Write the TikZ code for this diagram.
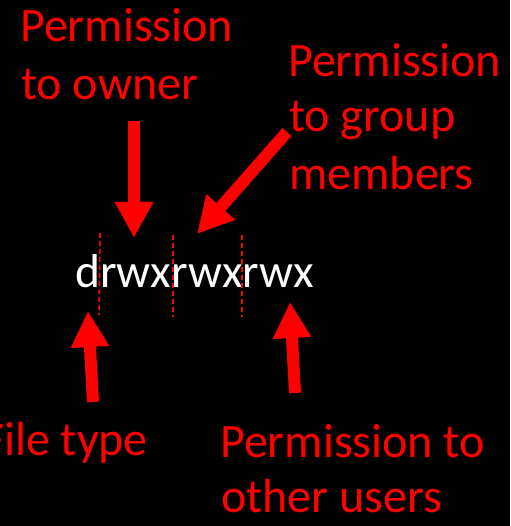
\documentclass[tikz,border=0pt]{standalone}
\usepackage{fontspec}
\setmainfont{Carlito}
\usetikzlibrary{arrows.meta}
\definecolor{lbl}{RGB}{255,0,0}
\tikzset{
  lab/.style={text=lbl, anchor=base west, inner sep=0pt, font=\fontsize{48}{58}\selectfont},
  perm/.style={text=white, anchor=base west, inner sep=0pt, font=\fontsize{47.5}{56}\selectfont},
  bigarrow/.style={draw=lbl, line width=12pt, -{Triangle[length=36pt,width=36pt]}},
  sep/.style={draw=lbl, line width=1.6pt, dash pattern=on 5pt off 3pt}
}
\begin{document}
\begin{tikzpicture}[x=1pt,y=-1pt]
\fill[black] (0,0) rectangle (510,526);
\useasboundingbox (0,0) rectangle (510,526);
% labels
\node[lab] (own1) at (20,42) {Permission};
\node[lab] (own2) at (21,100) {to owner};
\node[lab] (grp1) at (288,77) {Permission};
\node[lab] (grp2) at (289,132) {to group};
\node[lab] (grp3) at (289,190) {members};
\node[lab] (ft) at (-18,455) {File type};
\node[lab] (oth1) at (220,457) {Permission to};
\node[lab] (oth2) at (221,512) {other users};
\node[perm] (bits) at (75,287) {drwxrwxrwx};
% separators
\coordinate (s1a) at (100,233); \coordinate (s1b) at (99,315);
\coordinate (s2a) at (173,235); \coordinate (s2b) at (173,317);
\coordinate (s3a) at (242,235); \coordinate (s3b) at (242,317);
\path[sep] (s1a) -- (s1b);
\path[sep] (s2a) -- (s2b);
\path[sep] (s3a) -- (s3b);
% arrows
\coordinate (a1s) at (134,121); \coordinate (a1e) at (134,238);
\coordinate (a2s) at (287,132); \coordinate (a2e) at (197,234);
\coordinate (a3s) at (93,402); \coordinate (a3e) at (88,311);
\coordinate (a4s) at (295,393); \coordinate (a4e) at (290,302);
\path[bigarrow] (a1s) -- (a1e);
\path[bigarrow] (a2s) -- (a2e);
\path[bigarrow] (a3s) -- (a3e);
\path[bigarrow] (a4s) -- (a4e);
\end{tikzpicture}
\end{document}
